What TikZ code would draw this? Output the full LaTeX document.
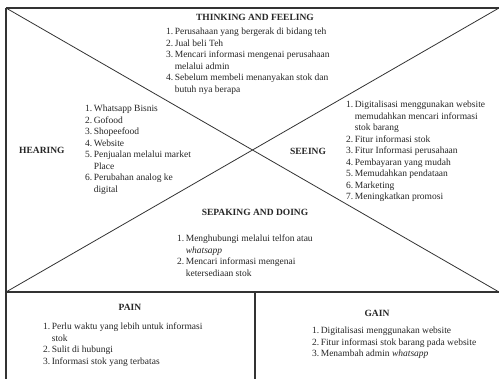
\documentclass[tikz,border=0pt]{standalone}
\usepackage{fontspec}
\setmainfont{Liberation Serif}
\begin{document}
\begin{tikzpicture}[x=1pt,y=-1pt,
  head/.style={font=\fontsize{9.5}{11.5}\selectfont\bfseries, inner sep=0pt, text=black!85},
  lst/.style={font=\fontsize{9.5}{11.5}\selectfont, inner sep=0pt, anchor=north west, align=left, text=black!85},
  border/.style={draw=black!80, line width=1.4pt},
  diag/.style={draw=black!80, line width=0.8pt}]
\useasboundingbox (0,0) rectangle (499,379);
\fill[white] (0,0) rectangle (499,379);
% frame coordinates
\coordinate (tl) at (6,8);
\coordinate (tr) at (499,8);
\coordinate (ml) at (6,292);
\coordinate (mr) at (499,292);
\coordinate (bl) at (6,379);
\coordinate (dt) at (255,292);
\coordinate (db) at (255,379);
% diagonals
\draw[diag] (tl) -- (mr);
\draw[diag] (ml) -- (tr);
% borders
\draw[border] (tl) -- (tr);
\draw[border] (tl) -- (bl);
\draw[border] (ml) -- (mr);
\draw[border, line width=1.1pt] (dt) -- (db);

\newcommand{\lstbox}[1]{\begin{tabular}{@{}l@{\hspace{1.5pt}}l@{}}#1\end{tabular}}

% THINKING AND FEELING
\node[head] (thH) at (255,17) {THINKING AND FEELING};
\node[lst] (thL) at (166,26.5) {\lstbox{
1. & Perusahaan yang bergerak di bidang teh\\
2. & Jual beli Teh\\
3. & Mencari informasi mengenai perusahaan\\
   & melalui admin\\
4. & Sebelum membeli menanyakan stok dan\\
   & butuh nya berapa}};

% HEARING
\node[head, anchor=west] (heH) at (19,150) {HEARING};
\node[lst] (heL) at (85,103.5) {\lstbox{
1. & Whatsapp Bisnis\\
2. & Gofood\\
3. & Shopeefood\\
4. & Website\\
5. & Penjualan melalui market\\
   & Place\\
6. & Perubahan analog ke\\
   & digital}};

% SEEING
\node[head] (seH) at (308,151) {SEEING};
\node[lst] (seL) at (346,99.5) {\lstbox{
1. & Digitalisasi menggunakan website\\
   & memudahkan mencari informasi\\
   & stok barang\\
2. & Fitur informasi stok\\
3. & Fitur Informasi perusahaan\\
4. & Pembayaran yang mudah\\
5. & Memudahkan pendataan\\
6. & Marketing\\
7. & Meningkatkan promosi}};

% SEPAKING AND DOING
\node[head] (spH) at (255,212) {SEPAKING AND DOING};
\node[lst] (spL) at (177,233.5) {\lstbox{
1. & Menghubungi melalui telfon atau\\
   & \textit{whatsapp}\\
2. & Mencari informasi mengenai\\
   & ketersediaan stok}};

% PAIN
\node[head] (paH) at (130,307) {PAIN};
\node[lst] (paL) at (43,321.5) {\lstbox{
1. & Perlu waktu yang lebih untuk informasi\\
   & stok\\
2. & Sulit di hubungi\\
3. & Informasi stok yang terbatas}};

% GAIN
\node[head] (gaH) at (377,313) {GAIN};
\node[lst] (gaL) at (312,325.5) {\lstbox{
1. & Digitalisasi menggunakan website\\
2. & Fitur informasi stok barang pada website\\
3. & Menambah admin \textit{whatsapp}}};
\end{tikzpicture}
\end{document}
